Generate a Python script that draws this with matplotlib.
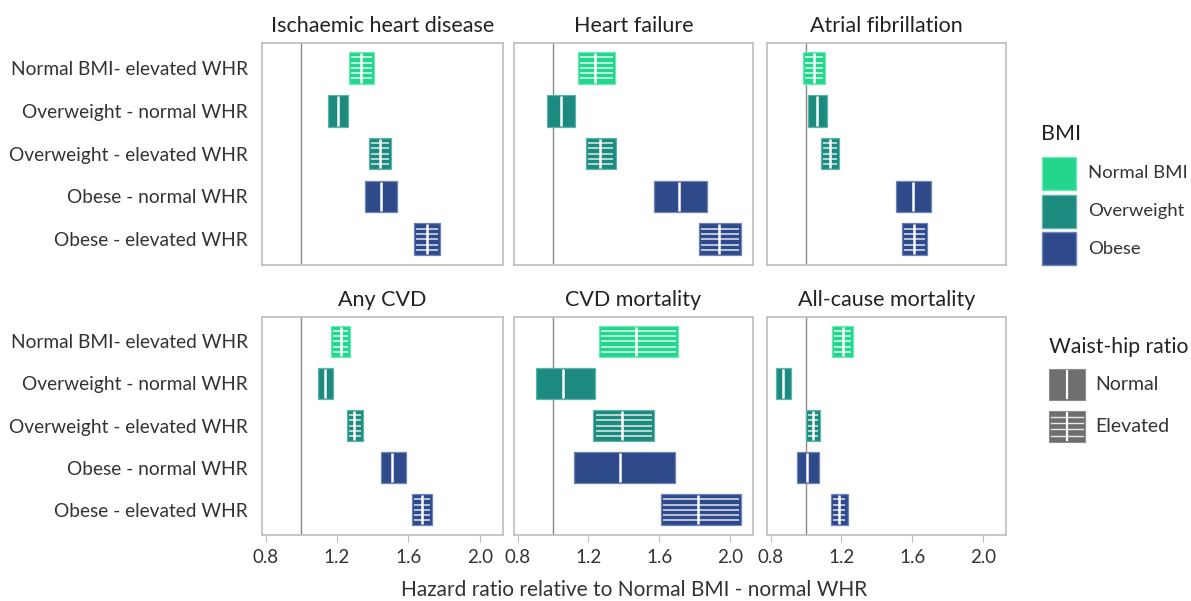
import numpy as np
import matplotlib.pyplot as plt
from matplotlib.patches import Rectangle

plt.rcParams['font.family'] = ['Lato', 'DejaVu Sans']

# data
outcomes = ["Ischaemic heart disease", "Heart failure", "Atrial fibrillation",
            "Any CVD", "CVD mortality", "All-cause mortality"]
categories = ["Normal BMI- elevated WHR", "Overweight - normal WHR",
              "Overweight - elevated WHR", "Obese - normal WHR",
              "Obese - elevated WHR"]
bmi_group = ["Normal BMI", "Overweight", "Overweight", "Obese", "Obese"]
whr_elevated = [True, False, True, False, True]

hr_est = {
    "Ischaemic heart disease": [1.335, 1.204, 1.442, 1.446, 1.705],
    "Heart failure": [1.240, 1.043, 1.266, 1.712, 1.939],
    "Atrial fibrillation": [1.043, 1.064, 1.136, 1.606, 1.610],
    "Any CVD": [1.223, 1.135, 1.297, 1.511, 1.675],
    "CVD mortality": [1.469, 1.058, 1.391, 1.376, 1.821],
    "All-cause mortality": [1.207, 0.872, 1.039, 1.008, 1.188],
}
hr_lo = {
    "Ischaemic heart disease": [1.265, 1.150, 1.381, 1.359, 1.632],
    "Heart failure": [1.142, 0.969, 1.188, 1.570, 1.823],
    "Atrial fibrillation": [0.982, 1.011, 1.086, 1.511, 1.540],
    "Any CVD": [1.165, 1.092, 1.256, 1.444, 1.619],
    "CVD mortality": [1.260, 0.905, 1.229, 1.119, 1.609],
    "All-cause mortality": [1.149, 0.832, 1.002, 0.948, 1.140],
}
hr_hi = {
    "Ischaemic heart disease": [1.409, 1.264, 1.502, 1.539, 1.777],
    "Heart failure": [1.349, 1.127, 1.354, 1.872, 2.065],
    "Atrial fibrillation": [1.108, 1.117, 1.188, 1.708, 1.684],
    "Any CVD": [1.273, 1.180, 1.344, 1.588, 1.731],
    "CVD mortality": [1.709, 1.236, 1.573, 1.690, 2.063],
    "All-cause mortality": [1.268, 0.915, 1.082, 1.073, 1.235],
}
x_ticks = [0.8, 1.2, 1.6, 2.0]

bmi_colors = {"Normal BMI": "#22d68e", "Overweight": "#1d8a7f", "Obese": "#2e4a8b"}
bmi_edges = {"Normal BMI": "#6fe8b6", "Overweight": "#5fb3a9", "Obese": "#6f84b5"}
whr_color = "#6e6e6e"
frame_col = "#bdbdbd"
text_col = "#333333"

W, H = 1191, 601
fig = plt.figure(figsize=(W / 100, H / 100), dpi=100)

col_left = [262, 514, 767]
col_width = [241, 239, 239]
row_top = [43, 317]
row_height = [222, 218]

bar_h = 0.74
n_hatch = 5

for k, name in enumerate(outcomes):
    r, c = divmod(k, 3)
    ax = fig.add_axes([col_left[c] / W, 1 - (row_top[r] + row_height[r]) / H,
                       col_width[c] / W, row_height[r] / H])
    ax.axvline(1.0, color="#8a8a8a", lw=1.0, zorder=1)
    for i in range(len(categories)):
        lo, hi, est = hr_lo[name][i], hr_hi[name][i], hr_est[name][i]
        g = bmi_group[i]
        ax.barh(i, hi - lo, left=lo, height=bar_h, color=bmi_colors[g],
                edgecolor=bmi_edges[g], linewidth=0.9, zorder=2)
        if whr_elevated[i]:
            pad = 0.012
            for y in np.linspace(i - bar_h * 0.33, i + bar_h * 0.33, n_hatch):
                ax.plot([lo + pad, hi - pad], [y, y], color="white", lw=1.1,
                        alpha=0.85, solid_capstyle="butt", zorder=3)
        ax.plot([est, est], [i - bar_h * 0.47, i + bar_h * 0.47], color="white",
                lw=1.8, solid_capstyle="butt", zorder=4)
    ax.set_xlim(0.78, 2.13)
    ax.set_ylim(4.6, -0.58)
    for s in ax.spines.values():
        s.set_color(frame_col)
        s.set_linewidth(1.2)
    ax.set_title(name, fontsize=15.5, color="#222222", pad=8)
    ax.set_xticks(x_ticks)
    if r == 1:
        ax.set_xticklabels([f"{t:.1f}" for t in x_ticks], fontsize=13.5, color=text_col)
        ax.tick_params(axis="x", length=5, color=frame_col, pad=5)
    else:
        ax.tick_params(axis="x", length=0, labelbottom=False)
    ax.set_yticks(range(len(categories)))
    if c == 0:
        ax.set_yticklabels(categories, fontsize=13.8, color=text_col)
        ax.tick_params(axis="y", length=0, pad=10)
    else:
        ax.tick_params(axis="y", length=0, labelleft=False)

fig.text(634 / W, 1 - 590 / H, "Hazard ratio relative to Normal BMI - normal WHR",
         ha="center", va="center", fontsize=15, color=text_col)

# legends drawn in pixel space on an overlay axis
leg = fig.add_axes([0, 0, 1, 1])
leg.set_xlim(0, W)
leg.set_ylim(H, 0)
leg.axis("off")

leg.text(1041, 134, "BMI", fontsize=15.5, color="#222222", va="center", ha="left")
for j, g in enumerate(["Normal BMI", "Overweight", "Obese"]):
    y0 = 157 + j * 37.5
    leg.add_patch(Rectangle((1042, y0), 34, 33, facecolor=bmi_colors[g],
                            edgecolor=bmi_edges[g], lw=1.0))
    leg.text(1088, y0 + 16.5, g, fontsize=13.3, color=text_col, va="center", ha="left")

leg.text(1049, 347, "Waist-hip ratio", fontsize=15.2, color="#222222", va="center", ha="left")
for j, (lab, elev) in enumerate([("Normal", False), ("Elevated", True)]):
    y0 = 369 + j * 41.5
    leg.add_patch(Rectangle((1049, y0), 36, 31, facecolor=whr_color,
                            edgecolor="#8c8c8c", lw=0.8))
    if elev:
        for y in np.linspace(y0 + 6, y0 + 25, 4):
            leg.plot([1051, 1083], [y, y], color="white", lw=1.0, alpha=0.85)
    leg.plot([1067, 1067], [y0 + 2, y0 + 29], color="white", lw=1.6)
    leg.text(1095, y0 + 15.5, lab, fontsize=14, color=text_col, va="center", ha="left")

fig.savefig("out.png", dpi=100)
